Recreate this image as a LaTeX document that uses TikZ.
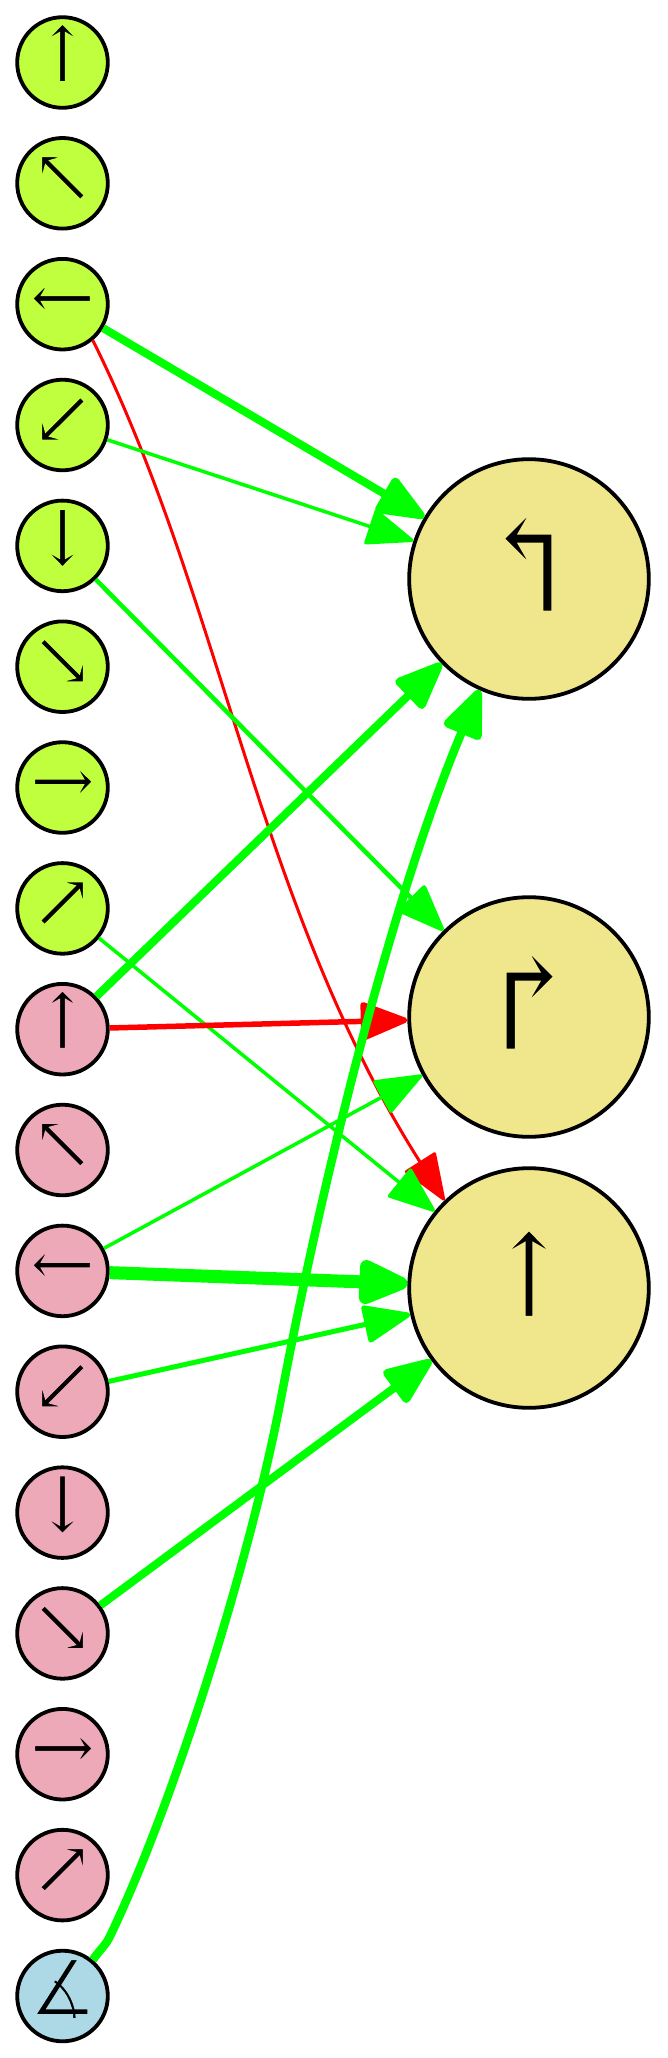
\documentclass[tikz,border=0pt]{standalone}
\usepackage{fontspec}
\setmainfont{DejaVu Serif}
\newfontfamily\symfont{DejaVu Sans}
\usetikzlibrary{arrows.meta}
\definecolor{gn}{HTML}{C0FF3E}
\definecolor{pk}{HTML}{EEA9B8}
\definecolor{bl}{HTML}{ADD8E6}
\definecolor{kh}{HTML}{F0E68C}
\newcommand\gnrgb{.753 1 .243}
\newcommand\pkrgb{.933 .663 .722}
\newcommand\blrgb{.678 .847 .902}
\newcommand\khrgb{.941 .902 .549}
\newcommand\ico[2]{\raisebox{-19.5pt}{\special{pdf:code q 2 Tr 1.6 w #1 RG}#2\special{pdf:code Q}}}
\newcommand\bigico[2]{\raisebox{-29pt}{\special{pdf:code q 2 Tr 2.4 w #1 RG}#2\special{pdf:code Q}}}
\newcommand\turnico[2]{\raisebox{-33pt}{\fontsize{136}{136}\selectfont\special{pdf:code q 2 Tr 2.6 w #1 RG}#2\special{pdf:code Q}}}
\newcommand\angico[2]{\raisebox{-19.5pt}{\special{pdf:code q 2 Tr 3 w #1 RG}#2\special{pdf:code Q}}}
\tikzset{
  small/.style={circle,draw=black,line width=3.8pt,minimum size=90.6pt,inner sep=0pt,text height=0pt,text depth=0pt,font=\fontsize{78}{78}\selectfont},
  large/.style={circle,draw=black,line width=3.8pt,fill=kh,minimum size=239.6pt,inner sep=0pt,text height=0pt,text depth=0pt,font=\fontsize{117}{117}\selectfont},
  gedge/.style={draw=green,line width=#1,line join=round,-{Triangle[length={46pt+#1},width={34pt+#1},round]}},
  redge/.style={draw=red,line width=#1,-{Triangle[length={46pt+#1},width={34pt+#1},round]}}
}
\begin{document}
\begin{tikzpicture}[x=1pt,y=-1pt]
\useasboundingbox (0,0) rectangle (667,2058);
\node[small,fill=gn] (n0) at (62.5,62.5) {\ico{\gnrgb}{↑}};
\node[small,fill=gn] (n1) at (62.5,183.3) {\ico{\gnrgb}{↖}};
\node[small,fill=gn] (n2) at (62.5,304.2) {\ico{\gnrgb}{←}};
\node[small,fill=gn] (n3) at (62.5,425) {\ico{\gnrgb}{↙}};
\node[small,fill=gn] (n4) at (62.5,545.9) {\ico{\gnrgb}{↓}};
\node[small,fill=gn] (n5) at (62.5,666.7) {\ico{\gnrgb}{↘}};
\node[small,fill=gn] (n6) at (62.5,787.5) {\ico{\gnrgb}{→}};
\node[small,fill=gn] (n7) at (62.5,908.4) {\ico{\gnrgb}{↗}};
\node[small,fill=pk] (n8) at (62.5,1029.2) {\ico{\pkrgb}{↑}};
\node[small,fill=pk] (n9) at (62.5,1150) {\ico{\pkrgb}{↖}};
\node[small,fill=pk] (n10) at (62.5,1270.9) {\ico{\pkrgb}{←}};
\node[small,fill=pk] (n11) at (62.5,1391.7) {\ico{\pkrgb}{↙}};
\node[small,fill=pk] (n12) at (62.5,1512.6) {\ico{\pkrgb}{↓}};
\node[small,fill=pk] (n13) at (62.5,1633.4) {\ico{\pkrgb}{↘}};
\node[small,fill=pk] (n14) at (62.5,1754.2) {\ico{\pkrgb}{→}};
\node[small,fill=pk] (n15) at (62.5,1875.1) {\ico{\pkrgb}{↗}};
\node[small,fill=bl] (n16) at (62.5,1996) {\angico{\blrgb}{\symfont ∡}};
\node[large] (A) at (529,579) {\turnico{\khrgb}{↰}};
\node[large] (B) at (529,1017) {\turnico{\khrgb}{↱}};
\node[large] (C) at (529,1288) {\bigico{\khrgb}{↑}};
\coordinate (r1) at (222,600);
\coordinate (r2) at (257,905);
\coordinate (g0) at (110.6,1935);
\coordinate (ga) at (101,1948);
\coordinate (gb) at (105.5,1946);
\coordinate (g1) at (175,1800);
\coordinate (g2) at (250,1560);
\coordinate (gm) at (280.7,1400);
\coordinate (g3) at (325,1165);
\coordinate (g4) at (395,890);
\draw[redge=3pt] (n2.-50) .. controls (r1) and (r2) .. (C.134);
\draw[gedge=8pt] (n2) -- (A);
\draw[gedge=3.5pt] (n3) -- (A);
\draw[gedge=4.5pt] (n4) -- (B);
\draw[gedge=3.5pt] (n7) -- (C);
\draw[gedge=8pt] (n8) -- (A);
\draw[redge=5.5pt] (n8) -- (B);
\draw[gedge=3.5pt] (n10) -- (B);
\draw[gedge=13pt] (n10) -- (C);
\draw[gedge=5pt] (n11) -- (C);
\draw[gedge=8pt] (n13) -- (C);
\draw[gedge=8.5pt] (n16.50) .. controls (ga) and (gb) .. (g0) .. controls (g1) and (g2) .. (gm) .. controls (g3) and (g4) .. (A.-114);
\end{tikzpicture}
\end{document}
